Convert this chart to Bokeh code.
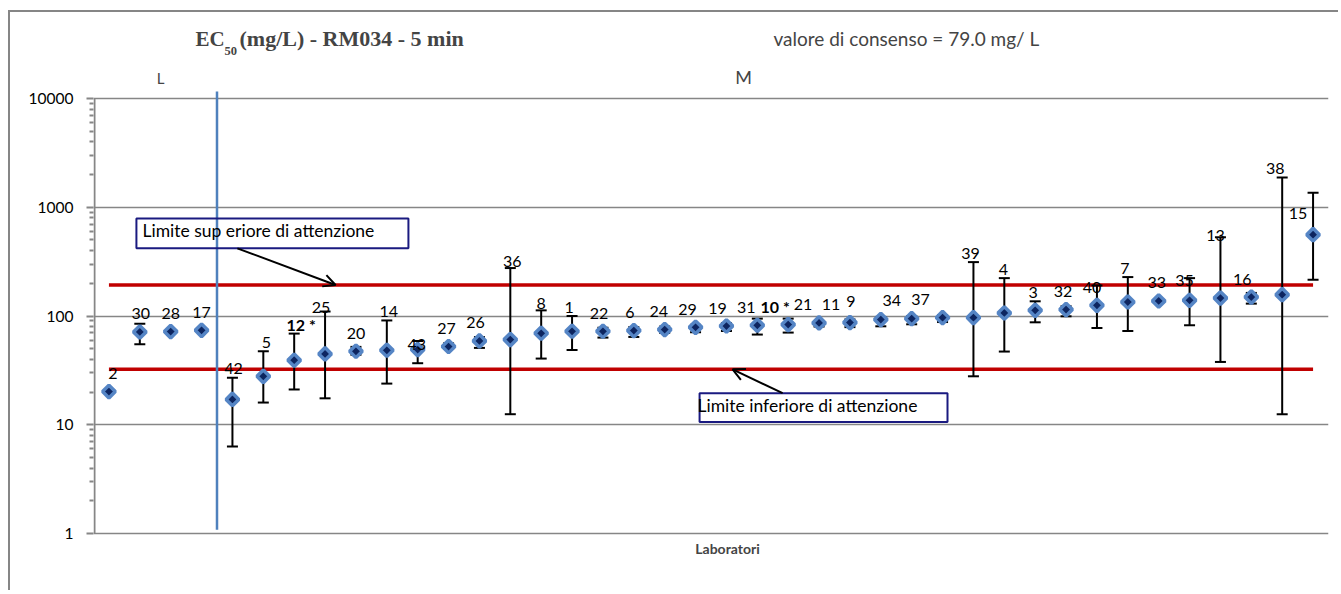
import math
from bokeh.plotting import figure
from bokeh.models import (ColumnDataSource, Label, Arrow, OpenHead, BoxAnnotation,
                          FixedTicker, Range1d)
from bokeh.embed import file_html
from bokeh.resources import INLINE
from bokeh.core.properties import value

nan = float("nan")

# ---------------- data ----------------
labs = ["2", "30", "28", "17", "42", "5", "12 *", "25", "20", "14", "43", "27", "26", "36", "8", "1",
        "22", "6", "24", "29", "19", "31", "10 *", "21", "11", "9", "34", "37", "39", "4", "3", "32",
        "40", "7", "33", "35", "13", "16", "38", "15"]
vals = [20.2, 71.3, 71.9, 73.9, 17.1, 27.9, 39.2, 44.8, 47.4, 48.4, 49.1, 52.4, 59.0, 60.7, 69.4, 72.4,
        72.4, 73.4, 75.0, 78.7, 80.9, 82.2, 83.4, 86.3, 87.0, 92.7, 94.6, 96.6, 96.6, 106.6, 112.8, 114.5,
        125.4, 134.5, 137.4, 139.4, 146.3, 149.4, 157.0, 559.0]
upper = [nan, 85.0, nan, nan, 27.0, 47.4, 68.9, 110.0, 52.0, 91.0, 58.9, 56.0, 64.0, 276.0, 112.7, 100.0,
         78.0, 79.0, 80.0, 83.0, 86.0, 94.6, 94.6, 90.0, 93.0, 98.0, 100.0, 102.0, 313.0, 223.0, 136.5, 123.0,
         191.0, 228.0, 142.0, 223.0, 531.0, 163.0, 1878.0, 1359.0]
lower = [nan, 55.0, nan, nan, 6.3, 16.0, 21.1, 17.5, 44.0, 23.9, 36.8, 50.0, 50.9, 12.5, 40.6, 48.7,
         63.3, 64.2, 70.0, 70.9, 72.8, 67.5, 70.4, 80.0, 79.0, 80.4, 83.9, 88.0, 27.9, 47.1, 87.5, 99.4,
         77.6, 72.8, 133.0, 82.2, 37.8, 130.0, 12.5, 216.0]
n_group_L = 4
consensus = 79.0
limit_upper = 193.0
limit_lower = 32.3
y_ticks = [1, 10, 100, 1000, 10000]

# ---------------- label styling (pixel nudges) ----------------
label_dx = [4, 1, 0, 0, 1, 3, 7, -4, 0, 2, -1, -2, -4, 2, 0, -3,
            -4, -4, -6, -8, -9, -11, -13, -16, -19, -30, -20, -22, -3, -1, -2, -3,
            -5, -3, -2, -5, -5, -9, -7, -15]
label_dy = [0] * 40
for k, d in {"43": 13, "25": 5, "40": 11, "35": 11, "13": 7, "15": 30, "36": 2, "8": 2}.items():
    label_dy[labs.index(k)] = d

# ---------------- layout ----------------
OX, OY = 10, 12                      # canvas origin on the page (css margin + border)
W, H = 1330, 580
FRAME_L, FRAME_R, FRAME_T, FRAME_B = 93, 1328, OY, OY + H   # page px
PX_PER_DEC = 108.75
Y_1_PAGE = 533                       # page y of value 1

y_lo = 10 ** (-(FRAME_B - Y_1_PAGE) / PX_PER_DEC)
y_hi = 10 ** ((Y_1_PAGE - FRAME_T) / PX_PER_DEC)
n = len(vals)
x_per_px = n / (FRAME_R - FRAME_L)


def sx(xp):
    # screen units are measured from the frame's left edge
    return xp - FRAME_L


def sy(yp):
    # ... and upward from the frame's bottom edge
    return FRAME_B - yp


xs = list(range(1, n + 1))
marker_gap = 10 ** (9 / PX_PER_DEC)
label_y = []
for v, hi in zip(vals, upper):
    top = v * marker_gap
    if not math.isnan(hi):
        top = max(top, hi)
    label_y.append(top)

src = ColumnDataSource(dict(
    x=xs, v=vals, hi=upper, lo=lower, lab=labs, ly=label_y,
    dx=label_dx, dy=[d - 9 for d in label_dy],
    fs=["bold" if "*" in s else "normal" for s in labs],
))

p = figure(width=W, height=H, x_range=Range1d(0.5, n + 0.5), y_range=Range1d(y_lo, y_hi),
           y_axis_type="log", output_backend="svg", toolbar_location=None, title=None,
           min_border_left=FRAME_L - OX, min_border_right=OX + W - FRAME_R, min_border_top=0,
           min_border_bottom=0)
p.styles = {"margin-left": "8px", "margin-top": "10px",
            "border-left": "2px solid #868686", "border-top": "2px solid #868686"}
p.outline_line_color = None
p.background_fill_color = "white"
p.border_fill_color = "white"

# grid / axes
grid_col = "#868686"
p.xgrid.visible = False
p.ygrid.ticker = FixedTicker(ticks=y_ticks)
p.ygrid.grid_line_color = grid_col
p.ygrid.grid_line_width = 1.5
p.xaxis.visible = False

minor = [m * 10 ** d for d in range(0, 4) for m in range(2, 10)]
p.yaxis.ticker = FixedTicker(ticks=y_ticks, minor_ticks=minor)
p.yaxis.major_label_overrides = {t: str(t) for t in y_ticks}
p.yaxis.axis_line_color = None
p.yaxis.major_tick_line_color = grid_col
p.yaxis.major_tick_line_width = 2
p.yaxis.major_tick_out = 7
p.yaxis.major_tick_in = 0
p.yaxis.minor_tick_line_color = grid_col
p.yaxis.minor_tick_line_width = 2
p.yaxis.minor_tick_out = 4
p.yaxis.minor_tick_in = 0
p.yaxis.major_label_text_font = "Lato"
p.yaxis.major_label_text_font_size = "15.5px"
p.yaxis.major_label_text_color = "black"
p.yaxis.major_label_standoff = 13

# value axis line, drawn only over the tick span (1 px inside the frame edge)
axis_x = 0.5 + x_per_px
p.line(x=[axis_x, axis_x], y=[y_ticks[0], y_ticks[-1]], line_color=grid_col, line_width=2)

# limit lines
p.line(x=[xs[0], xs[-1]], y=[limit_upper, limit_upper], line_color="#c00000", line_width=3.5)
p.line(x=[xs[0], xs[-1]], y=[limit_lower, limit_lower], line_color="#c00000", line_width=3.5)

# group divider (L | M)
p.line(x=[n_group_L + 0.5] * 2, y=[1.08, 11600], line_color="#4f81bd", line_width=2.5)

# error bars
p.segment(x0="x", y0="lo", x1="x", y1="hi", source=src, line_color="black", line_width=2)
p.scatter(x="x", y="hi", source=src, marker="dash", size=11, line_color="black", line_width=2)
p.scatter(x="x", y="lo", source=src, marker="dash", size=11, line_color="black", line_width=2)

# points
p.scatter(x="x", y="v", source=src, marker="square", angle=math.pi / 4, size=9,
          fill_color="#0d2560", line_color="#5585c5", line_width=3.5)

# point labels
p.text(x="x", y="ly", text="lab", source=src, x_offset="dx", y_offset="dy",
       text_font=value("Lato"), text_font_size="16px", text_font_style="fs",
       text_align="center", text_baseline="alphabetic", text_color="black")

# annotation boxes and arrows
box_col = "#1a1a80"
p.add_layout(BoxAnnotation(left=1.89, right=10.70, bottom=419, top=789, fill_alpha=0,
                           line_color=box_col, line_alpha=1, line_width=2))
p.add_layout(Label(x=sx(142), y=sy(240), x_units="screen", y_units="screen",
                   text="Limite sup eriore di attenzione", text_font="Lato", text_font_size="17.5px",
                   text_color="black"))
p.add_layout(Arrow(x_start=5.16, y_start=419, x_end=8.34, y_end=limit_upper, line_color="black",
                   line_width=2, end=OpenHead(size=12, line_width=2, line_color="black")))

p.add_layout(BoxAnnotation(left=20.13, right=28.16, bottom=10.6, top=19.5, fill_alpha=0,
                           line_color=box_col, line_alpha=1, line_width=2))
p.add_layout(Label(x=sx(697), y=sy(415), x_units="screen", y_units="screen",
                   text="Limite inferiore di attenzione", text_font="Lato", text_font_size="17.5px",
                   text_color="black"))
p.add_layout(Arrow(x_start=22.82, y_start=19.5, x_end=21.2, y_end=limit_lower, line_color="black",
                   line_width=2, end=OpenHead(size=12, line_width=2, line_color="black")))

# titles / other texts
serif = "Liberation Serif"
p.add_layout(Label(x=sx(195), y=sy(50), x_units="screen", y_units="screen", text="EC",
                   text_font=serif, text_font_size="21px", text_font_style="bold"))
p.add_layout(Label(x=sx(224), y=sy(54), x_units="screen", y_units="screen", text="50",
                   text_font=serif, text_font_size="12.5px", text_font_style="bold"))
p.add_layout(Label(x=sx(239), y=sy(50), x_units="screen", y_units="screen",
                   text="(mg/L) - RM034 - 5 min",
                   text_font=serif, text_font_size="22px", text_font_style="bold"))
p.add_layout(Label(x=sx(773), y=sy(49), x_units="screen", y_units="screen",
                   text=f"valore di consenso = {consensus:.1f} mg/ L",
                   text_font="Lato", text_font_size="19px"))
p.add_layout(Label(x=sx(160), y=sy(86), x_units="screen", y_units="screen", text="L",
                   text_font="Lato", text_font_size="15px", text_align="center"))
p.add_layout(Label(x=sx(743), y=sy(87), x_units="screen", y_units="screen", text="M",
                   text_font="Lato", text_font_size="18px", text_align="center"))
p.add_layout(Label(x=sx(727), y=sy(556), x_units="screen", y_units="screen", text="Laboratori",
                   text_font="Lato", text_font_size="14px", text_font_style="bold", text_align="center"))

open("out.html", "w").write(file_html(p, INLINE))
